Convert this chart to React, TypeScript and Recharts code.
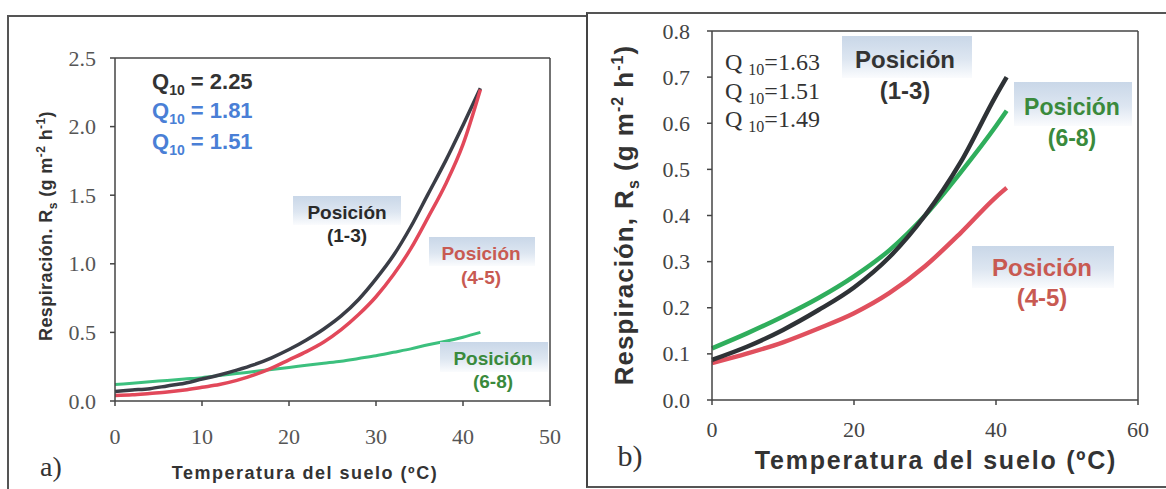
import React from "react";
import { LineChart, Line, XAxis, YAxis, ReferenceLine } from "recharts";

// panel a) — soil temperature vs respiration
const tempA = [0, 2, 4, 6, 8, 10, 12, 14, 16, 18, 20, 22, 24, 26, 28, 30, 32, 34, 36, 38, 40, 42];
const posA13 = [0.07, 0.08, 0.09, 0.11, 0.13, 0.16, 0.19, 0.225, 0.265, 0.315, 0.375, 0.445, 0.525, 0.62, 0.74, 0.89, 1.06, 1.27, 1.51, 1.75, 2.01, 2.28];
const posA45 = [0.04, 0.045, 0.055, 0.065, 0.08, 0.1, 0.12, 0.15, 0.19, 0.24, 0.3, 0.36, 0.43, 0.52, 0.63, 0.76, 0.92, 1.11, 1.34, 1.58, 1.87, 2.27];
const posA68 = [0.12, 0.13, 0.14, 0.15, 0.16, 0.17, 0.185, 0.2, 0.215, 0.23, 0.245, 0.26, 0.275, 0.29, 0.31, 0.33, 0.355, 0.38, 0.41, 0.435, 0.465, 0.5];
const xTicksA = [0, 10, 20, 30, 40, 50];
const yTicksA = [0, 0.5, 1, 1.5, 2, 2.5];

// panel b)
const tempB = [0, 5, 10, 15, 20, 25, 30, 35, 40, 41.5];
const posB13 = [0.087, 0.116, 0.152, 0.195, 0.244, 0.31, 0.4, 0.515, 0.66, 0.7];
const posB45 = [0.08, 0.101, 0.125, 0.155, 0.188, 0.232, 0.29, 0.362, 0.44, 0.46];
const posB68 = [0.112, 0.145, 0.181, 0.221, 0.268, 0.325, 0.4, 0.493, 0.594, 0.627];
const xTicksB = [0, 20, 40, 60];
const yTicksB = [0, 0.1, 0.2, 0.3, 0.4, 0.5, 0.6, 0.7, 0.8];

const dataA = tempA.map((t, i) => ({ t, a: posA13[i], b: posA45[i], c: posA68[i] }));
const dataB = tempB.map((t, i) => ({ t, a: posB13[i], b: posB45[i], c: posB68[i] }));

const SERIF = "Liberation Serif, DejaVu Serif, serif";
const SANS = "Liberation Sans, Arial, sans-serif";
const AXIS = "#444";

// serif tick labels
function SerifTick({ x, y, payload, textAnchor, fill, axis, size }: any) {
  const label = axis === "y" ? Number(payload.value).toFixed(1) : String(payload.value);
  return (
    <g>
      <text
        x={x}
        y={y}
        textAnchor={textAnchor}
        dominantBaseline={axis === "y" ? "central" : "hanging"}
        fill={fill}
        fontFamily="Liberation Serif"
        fontSize={size}
      >
        {label}
      </text>
    </g>
  );
}

function Txt({ x, y, size, color = "#222", bold = false, family = SANS, rotate = 0, spacing = 0, children }: any) {
  return (
    <div
      style={{
        position: "absolute",
        left: x,
        top: y,
        transform: `translate(-50%, -50%) rotate(${rotate}deg)`,
        fontSize: size,
        color,
        fontWeight: bold ? 700 : 400,
        fontFamily: family,
        letterSpacing: spacing,
        whiteSpace: "nowrap",
        lineHeight: 1,
      }}
    >
      {children}
    </div>
  );
}

function Tag({ x, y, w, h, cx, y1, y2, size, color, line2 }: any) {
  return (
    <>
      <div
        style={{
          position: "absolute",
          left: x,
          top: y,
          width: w,
          height: h,
          background: "linear-gradient(180deg, #c9d7e8 0%, #dde6f1 55%, rgba(240,244,250,0.3) 100%)",
        }}
      />
      <Txt x={cx} y={y1} size={size} color={color} bold>Posición</Txt>
      <Txt x={cx} y={y2} size={size} color={color} bold>{line2}</Txt>
    </>
  );
}

function Q10({ x, y, val, color }: any) {
  return (
    <div style={{ position: "absolute", left: x, top: y, transform: "translateY(-50%)", fontFamily: SANS, fontWeight: 700, fontSize: 22, color, lineHeight: 1, whiteSpace: "nowrap" }}>
      Q<sub style={{ fontSize: 14 }}>10</sub> = {val}
    </div>
  );
}

function Q10b({ x, y, val }: any) {
  return (
    <div style={{ position: "absolute", left: x, top: y, transform: "translateY(-50%)", fontFamily: SERIF, fontSize: 24, color: "#333", lineHeight: 1, whiteSpace: "nowrap" }}>
      Q <sub style={{ fontSize: 16 }}>10</sub>={val}
    </div>
  );
}

export default function App() {
  return (
    <div style={{ position: "absolute", left: 0, top: 0, width: 1166, height: 489, background: "#fff", overflow: "hidden" }}>
      {/* panel frames */}
      <div style={{ position: "absolute", left: 7, top: 15, width: 579, height: 480, borderLeft: "2px solid #555", borderTop: "2px solid #555" }} />
      <div style={{ position: "absolute", left: 586, top: 12, width: 580, height: 472, borderLeft: "2px solid #444", borderTop: "2px solid #555", borderBottom: "2px solid #555" }} />

      <div style={{ position: "absolute", left: 0, top: 0 }}>
        <LineChart width={586} height={489} data={dataA} margin={{ top: 58, right: 36, bottom: 58, left: 0 }}>
          <XAxis
            dataKey="t"
            type="number"
            domain={[0, 50]}
            ticks={xTicksA}
            height={30}
            stroke={AXIS}
            strokeWidth={1.5}
            tickSize={5}
            tickMargin={22}
            tick={<SerifTick axis="x" size={22} fill="#555" />}
          />
          <YAxis
            type="number"
            domain={[0, 2.5]}
            ticks={yTicksA}
            width={115}
            stroke={AXIS}
            strokeWidth={1.5}
            tickSize={5}
            tickMargin={14}
            tick={<SerifTick axis="y" size={22} fill="#555" />}
          />
          <ReferenceLine y={2.5} stroke={AXIS} strokeWidth={1.5} />
          <ReferenceLine x={50} stroke={AXIS} strokeWidth={1.5} />
          <Line type="monotone" dataKey="c" stroke="#3cc07e" strokeWidth={3} dot={false} isAnimationActive={false} />
          <Line type="monotone" dataKey="a" stroke="#3a3d46" strokeWidth={3.5} dot={false} isAnimationActive={false} />
          <Line type="monotone" dataKey="b" stroke="#e2485a" strokeWidth={3.5} dot={false} isAnimationActive={false} />
        </LineChart>
      </div>

      <div style={{ position: "absolute", left: 586, top: 0 }}>
        <LineChart width={580} height={489} data={dataB} margin={{ top: 31, right: 28, bottom: 59, left: 0 }}>
          <XAxis
            dataKey="t"
            type="number"
            domain={[0, 60]}
            ticks={xTicksB}
            height={30}
            stroke={AXIS}
            strokeWidth={1.5}
            tickSize={5}
            tickMargin={16}
            tick={<SerifTick axis="x" size={22} fill="#444" />}
          />
          <YAxis
            type="number"
            domain={[0, 0.8]}
            ticks={yTicksB}
            width={126}
            stroke={AXIS}
            strokeWidth={1.5}
            tickSize={5}
            tickMargin={17}
            tick={<SerifTick axis="y" size={22} fill="#444" />}
          />
          <ReferenceLine y={0.8} stroke={AXIS} strokeWidth={1.5} />
          <ReferenceLine x={60} stroke={AXIS} strokeWidth={1.5} />
          <Line type="monotone" dataKey="b" stroke="#e0505e" strokeWidth={4.5} dot={false} isAnimationActive={false} />
          <Line type="monotone" dataKey="c" stroke="#2fae5c" strokeWidth={4.5} dot={false} isAnimationActive={false} />
          <Line type="monotone" dataKey="a" stroke="#2e3236" strokeWidth={4.5} dot={false} isAnimationActive={false} />
        </LineChart>
      </div>

      {/* panel a) texts */}
      <Q10 x={152} y={84} val="2.25" color="#333" />
      <Q10 x={152} y={113} val="1.81" color="#4a7fd6" />
      <Q10 x={152} y={144} val="1.51" color="#4a7fd6" />
      <Tag x={293} y={196} w={108} h={29} cx={347} y1={212} y2={235} size={19} color="#2a2a2a" line2="(1-3)" />
      <Tag x={429} y={237} w={106} h={29} cx={481} y1={253} y2={277} size={19} color="#c85a52" line2="(4-5)" />
      <Tag x={440} y={342} w={108} h={30} cx={493} y1={358} y2={381} size={19} color="#3a8a3c" line2="(6-8)" />
      <Txt x={51} y={467} size={28} family={SERIF} color="#333">a)</Txt>
      <Txt x={305} y={473} size={18} bold spacing={1.5} color="#333">Temperatura del suelo (ºC)</Txt>
      <Txt x={47} y={226} size={18} bold rotate={-90} spacing={0.4} color="#333">
        Respiración. R<sub style={{ fontSize: 12 }}>s</sub> (g m<sup style={{ fontSize: 12 }}>-2</sup> h<sup style={{ fontSize: 12 }}>-1</sup>)
      </Txt>

      {/* panel b) texts */}
      <Q10b x={725} y={64} val="1.63" />
      <Q10b x={725} y={93} val="1.51" />
      <Q10b x={725} y={121} val="1.49" />
      <Tag x={842} y={36} w={130} h={42} cx={905} y1={60} y2={91} size={24} color="#333" line2="(1-3)" />
      <Tag x={1014} y={82} w={118} h={44} cx={1072} y1={107} y2={138} size={23} color="#3a8a3c" line2="(6-8)" />
      <Tag x={972} y={246} w={142} h={42} cx={1042} y1={268} y2={298} size={24} color="#c85a52" line2="(4-5)" />
      <Txt x={630} y={456} size={30} family={SERIF} color="#333">b)</Txt>
      <Txt x={936} y={460} size={25} bold spacing={1.8} color="#333">Temperatura del suelo (ºC)</Txt>
      <Txt x={626} y={215} size={26} bold rotate={-90} spacing={1} color="#333">
        Respiración, R<sub style={{ fontSize: 16 }}>s</sub> (g m<sup style={{ fontSize: 16 }}>-2</sup> h<sup style={{ fontSize: 16 }}>-1</sup>)
      </Txt>
    </div>
  );
}
